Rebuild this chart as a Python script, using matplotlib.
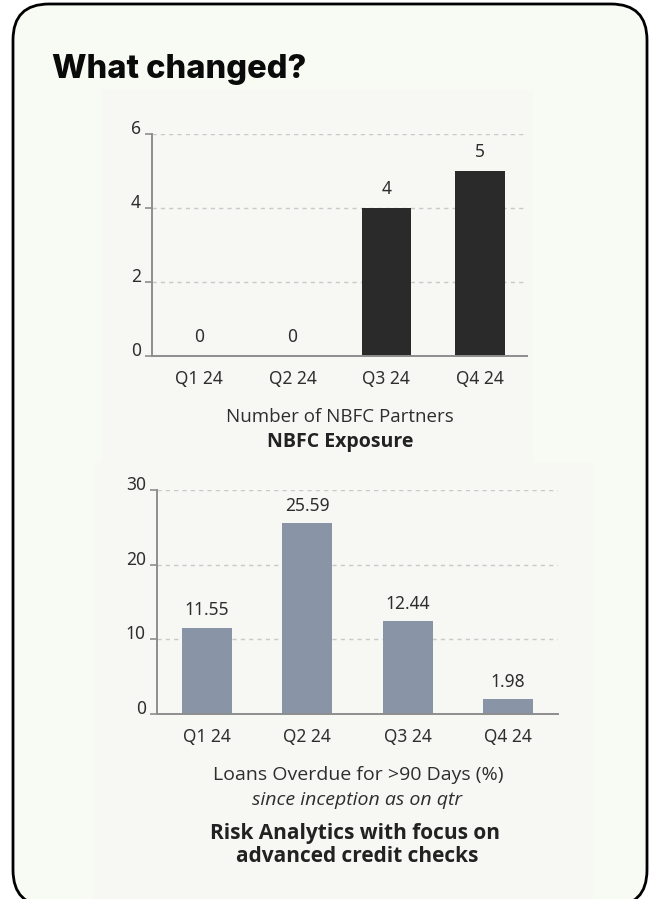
import matplotlib.pyplot as plt
from matplotlib.patches import FancyBboxPatch, Rectangle
from matplotlib.transforms import ScaledTranslation

# Datos
quarters = ['Q1 24', 'Q2 24', 'Q3 24', 'Q4 24']
nbfc_partners = [0, 0, 4, 5]
nbfc_ticks = [0, 2, 4, 6]
overdue_pct = [11.55, 25.59, 12.44, 1.98]
overdue_ticks = [0, 10, 20, 30]

W, H = 653, 899
fig = plt.figure(figsize=(W / 100, H / 100), dpi=100)
fig.patch.set_facecolor('white')

# Fondo en coordenadas de pixel (y hacia abajo)
bg = fig.add_axes([0, 0, 1, 1], zorder=0)
bg.set_xlim(0, W)
bg.set_ylim(H, 0)
bg.axis('off')

card = FancyBboxPatch((13, 4), 634, 902, boxstyle='round,pad=0,rounding_size=36',
                      facecolor='#f8faf4', edgecolor='black', linewidth=2)
bg.add_patch(card)
bg.add_patch(Rectangle((102, 90), 431, 373, facecolor='#f7f7f3', edgecolor='none'))
bg.add_patch(Rectangle((94, 463), 499, 437, facecolor='#f7f7f3', edgecolor='none'))

bg.text(52, 78, 'What changed?', fontsize=23.5, fontweight='heavy', family='Inter',
        color='#0a0a0a', va='baseline', ha='left')

txt = '#2e2e2e'
font = 'Noto Sans'
cap_font = 'Open Sans'


def style_axes(ax, ticks, ymax):
    ax.set_facecolor('none')
    ax.set_xlim(-0.5, 3.5)
    ax.set_ylim(0, ymax)
    ax.set_yticks(ticks)
    ax.set_xticks(range(len(quarters)))
    ax.set_xticklabels(quarters, fontsize=12.5, color=txt, family=font)
    for s in ['top', 'right']:
        ax.spines[s].set_visible(False)
    for s in ['left', 'bottom']:
        ax.spines[s].set_color('#8e8e8e')
        ax.spines[s].set_linewidth(1.4)
    ax.tick_params(axis='x', length=0, pad=10)
    ax.tick_params(axis='y', length=5, width=1.2, color='#8e8e8e', pad=3,
                   labelsize=12.5, labelcolor=txt)
    for lbl in ax.get_yticklabels():
        lbl.set_family(font)
        lbl.set_transform(lbl.get_transform() + ScaledTranslation(0, 5 / 72, fig.dpi_scale_trans))
    ax.yaxis.grid(True, linestyle=(0, (3, 3)), color='#c9c9c9', linewidth=1)
    ax.set_axisbelow(True)


# Grafico 1: NBFC
ax1 = fig.add_axes([152 / W, 1 - 356 / H, 375 / W, 222 / H], zorder=2)
style_axes(ax1, nbfc_ticks, 6)
ax1.bar(range(len(quarters)), nbfc_partners, width=0.53, color='#2a2a2a')
for i, v in enumerate(nbfc_partners):
    ax1.annotate(f'{v}', (i, v), xytext=(0, 7), textcoords='offset points',
                 ha='center', va='bottom', fontsize=12.5, color=txt, family=font)

bg.text(340, 417, 'Number of NBFC Partners', fontsize=13.5, color=txt, family=cap_font,
        ha='center', va='center')
bg.text(340, 442, 'NBFC Exposure', fontsize=14, fontweight='bold', color='#222222',
        family=cap_font, ha='center', va='center')

# Grafico 2: Riesgo
ax2 = fig.add_axes([157 / W, 1 - 714 / H, 401 / W, 224 / H], zorder=2)
style_axes(ax2, overdue_ticks, 30)
ax2.bar(range(len(quarters)), overdue_pct, width=0.5, color='#8995a7')
for i, v in enumerate(overdue_pct):
    ax2.annotate(f'{v:.2f}', (i, v), xytext=(0, 6), textcoords='offset points',
                 ha='center', va='bottom', fontsize=12.5, color=txt, family=font)

bg.text(358, 775, 'Loans Overdue for >90 Days (%)', fontsize=14, color=txt, family=cap_font,
        ha='center', va='center')
bg.text(357, 800, 'since inception as on qtr', fontsize=14, style='italic', color=txt,
        family=cap_font, ha='center', va='center')
bg.text(355, 833, 'Risk Analytics with focus on', fontsize=15, fontweight='bold',
        color='#222222', family=cap_font, ha='center', va='center')
bg.text(357, 857, 'advanced credit checks', fontsize=15, fontweight='bold',
        color='#222222', family=cap_font, ha='center', va='center')

fig.savefig('out.png', dpi=100)
